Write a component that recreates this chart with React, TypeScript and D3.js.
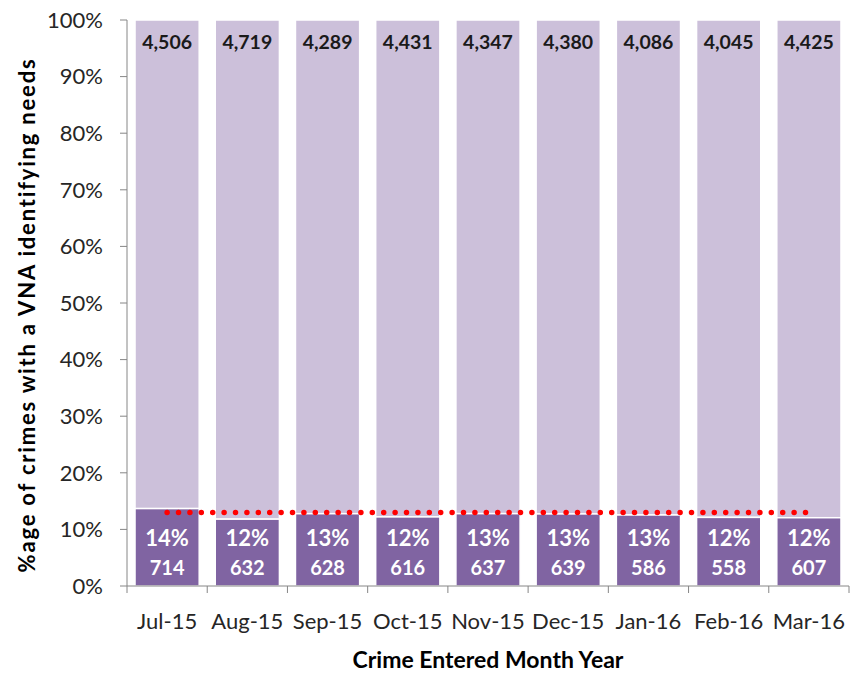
import React from "react";
import * as d3 from "d3";

const months = ["Jul-15", "Aug-15", "Sep-15", "Oct-15", "Nov-15", "Dec-15", "Jan-16", "Feb-16", "Mar-16"];
const withNeeds = [714, 632, 628, 616, 637, 639, 586, 558, 607];
const withoutNeeds = [4506, 4719, 4289, 4431, 4347, 4380, 4086, 4045, 4425];
const averageLine = [0.13, 0.13, 0.13, 0.13, 0.13, 0.13, 0.13, 0.13, 0.13];
const yTicks = [0, 0.1, 0.2, 0.3, 0.4, 0.5, 0.6, 0.7, 0.8, 0.9, 1];

const W = 850;
const H = 673;
const margin = { top: 20, right: 1, bottom: 87, left: 127 };
const FONT = "Lato, 'Open Sans', sans-serif";

const App: React.FC = () => {
  const innerW = W - margin.left - margin.right;
  const innerH = H - margin.top - margin.bottom;

  const x = d3.scaleBand<string>().domain(months).range([0, innerW]).paddingInner(0.2).paddingOuter(0.1);
  const y = d3.scaleLinear().domain([0, 1]).range([innerH, 0]);

  const rows = months.map((m, i) => {
    const total = withNeeds[i] + withoutNeeds[i];
    return { month: m, needs: withNeeds[i], other: withoutNeeds[i], share: withNeeds[i] / total };
  });

  const step = x.step();
  const avgLine = d3
    .line<number>()
    .x((_, i) => (x(months[i]) ?? 0) + x.bandwidth() / 2)
    .y((d) => y(d));

  return (
    <svg width={W} height={H} style={{ position: "absolute", left: 0, top: 0, background: "#fff" }}>
      <g transform={`translate(${margin.left},${margin.top})`}>
        {/* bars */}
        {rows.map((r) => {
          const bx = x(r.month) ?? 0;
          return (
            <g key={r.month}>
              <rect x={bx} y={y(1)} width={x.bandwidth()} height={y(r.share) - y(1)} fill="#CCC0DA" stroke="#fff" strokeWidth={1.5} />
              <rect x={bx} y={y(r.share)} width={x.bandwidth()} height={y(0) - y(r.share)} fill="#8064A2" stroke="#fff" strokeWidth={1.5} />
            </g>
          );
        })}

        {/* average dotted line */}
        <path
          d={avgLine(averageLine) ?? ""}
          fill="none"
          stroke="#FF0000"
          strokeWidth={5.5}
          strokeLinecap="round"
          strokeDasharray="0 11.4"
        />

        {/* labels */}
        {rows.map((r) => {
          const cx = (x(r.month) ?? 0) + x.bandwidth() / 2;
          return (
            <g key={"l" + r.month} fontFamily={FONT} fontWeight="bold" textAnchor="middle">
              <text x={cx} y={y(1) + 24} fontSize={19.5} fill="#1a1a1a" dominantBaseline="middle">
                {d3.format(",")(r.other)}
              </text>
              <text x={cx} y={y(0.08)} fontSize={22} fill="#fff" dominantBaseline="middle">
                {d3.format(".0%")(r.share)}
              </text>
              <text x={cx} y={y(0.028)} fontSize={20} fill="#fff" dominantBaseline="middle">
                {r.needs}
              </text>
            </g>
          );
        })}

        {/* y axis */}
        <line x1={0} x2={0} y1={0} y2={innerH} stroke="#868686" />
        {yTicks.map((t) => (
          <g key={t} transform={`translate(0,${y(t)})`}>
            <line x1={-7} x2={0} stroke="#868686" />
            <text x={-24} dy="0.35em" textAnchor="end" fontFamily={FONT} fontSize={22} fill="#262626">
              {d3.format(".0%")(t)}
            </text>
          </g>
        ))}

        {/* x axis */}
        <line x1={0} x2={innerW} y1={innerH} y2={innerH} stroke="#868686" />
        {d3.range(months.length + 1).map((i) => (
          <line key={i} x1={i * step} x2={i * step} y1={innerH} y2={innerH + 7} stroke="#868686" />
        ))}
        {months.map((m) => (
          <text
            key={m}
            x={(x(m) ?? 0) + x.bandwidth() / 2}
            y={innerH + 43}
            textAnchor="middle"
            fontFamily={FONT}
            fontSize={22}
            fill="#262626"
          >
            {m}
          </text>
        ))}

        {/* axis titles */}
        <text x={innerW / 2} y={innerH + 82} textAnchor="middle" fontFamily={FONT} fontWeight="bold" fontSize={23} fill="#000">
          Crime Entered Month Year
        </text>
        <text
          transform={`translate(${-margin.left + 35},${innerH / 2 + 12}) rotate(-90)`}
          textAnchor="middle"
          fontFamily={FONT}
          fontWeight="bold"
          fontSize={22}
          letterSpacing={1.8}
          fill="#000"
        >
          %age of crimes with a VNA identifying needs
        </text>
      </g>
    </svg>
  );
};

export default App;
